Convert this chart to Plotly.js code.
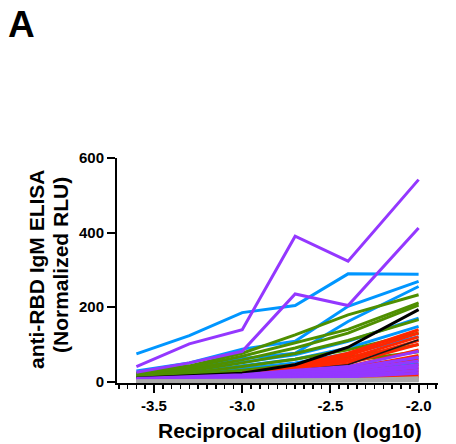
<!DOCTYPE html>
<html>
<head>
<meta charset="utf-8">
<script src="https://cdn.plot.ly/plotly-3.0.1.min.js"></script>
<style>html,body{margin:0;padding:0;background:#fff;}#chart{width:456px;height:444px;}</style>
</head>
<body>
<div id="chart"></div>
<script>
// log10 reciprocal dilution
const dilution = [-3.6, -3.3, -3.0, -2.7, -2.4, -2.0];

const blueSeries = [
  [74, 123, 185, 204, 289, 288],
  [28, 50, 87, 108, 202, 269],
  [22, 40, 62, 76, 161, 255],
  [18, 32, 52, 72, 108, 170],
  [15, 25, 42, 60, 90, 148],
  [12, 20, 35, 50, 75, 120],
  [10, 15, 22, 30, 40, 63],
  [8, 12, 18, 24, 32, 50]
];
const greenSeries = [
  [22, 42, 76, 125, 179, 233],
  [20, 38, 68, 105, 140, 211],
  [18, 33, 58, 90, 130, 205],
  [15, 28, 50, 75, 110, 166],
  [12, 22, 40, 60, 85, 130],
  [10, 18, 30, 45, 65, 99],
  [8, 15, 25, 38, 55, 80]
];
const redSeries = [
  [6, 10, 22, 45, 76, 139],
  [5, 9, 20, 40, 70, 130],
  [5, 8, 18, 36, 62, 120],
  [4, 7, 16, 32, 55, 110],
  [4, 6, 14, 28, 48, 100],
  [3, 6, 12, 24, 40, 85],
  [3, 5, 10, 20, 34, 70],
  [3, 5, 9, 17, 28, 58],
  [2, 4, 8, 14, 22, 45],
  [2, 4, 7, 12, 18, 36],
  [2, 3, 6, 10, 14, 28],
  [2, 3, 5, 8, 11, 20],
  [1, 2, 4, 6, 8, 14],
  [1, 2, 3, 5, 6, 10]
];
const blackSeries = [
  [9, 15, 22, 45, 92, 193]
];
const blackThinSeries = [
  [5, 8, 15, 30, 45, 112]
];
const purpleSeries = [
  [40, 101, 139, 390, 323, 542],
  [25, 50, 81, 235, 204, 412],
  [8, 12, 18, 30, 40, 81],
  [6, 10, 15, 25, 35, 65],
  [5, 8, 12, 22, 30, 55],
  [4, 7, 10, 18, 25, 45],
  [3, 5, 8, 14, 20, 38],
  [2, 4, 6, 10, 15, 30],
  [2, 3, 5, 8, 12, 22]
];
const graySeries = [
  [2, 2, 3, 4, 5, 10],
  [1, 2, 2, 3, 4, 7],
  [1, 1, 2, 2, 3, 5],
  [0, 1, 1, 2, 2, 3],
  [0, 0, 1, 1, 1, 2]
];

const xTickVals = [-3.5, -3.0, -2.5, -2.0];
const xTickText = ["-3.5", "-3.0", "-2.5", "-2.0"];
const yTickVals = [0, 200, 400, 600];
const yTickText = ["0", "200", "400", "600"];

const panelLabel = 'A';
const xTitle = 'Reciprocal dilution (log10)';
const yTitleLines = ['anti-RBD IgM ELISA', '(Normalized RLU)'];

const groups = [
  {data: blueSeries, color: '#0096FF', width: 3},
  {data: greenSeries, color: '#4F8F00', width: 3},
  {data: redSeries, color: '#FF2600', width: 3},
  {data: blackSeries, color: '#000000', width: 3},
  {data: blackThinSeries, color: '#1a1a1a', width: 1.5},
  {data: purpleSeries, color: '#9437FF', width: 3},
  {data: graySeries, color: '#A9A9A9', width: 3}
];

const traces = [];
groups.forEach(g => {
  g.data.forEach(ys => {
    traces.push({
      x: dilution, y: ys, type: 'scatter', mode: 'lines',
      line: {color: g.color, width: g.width},
      hoverinfo: 'skip', showlegend: false
    });
  });
});

const fontFam = 'Liberation Sans, Arial, Helvetica, sans-serif';
const M = {l: 117, r: 18, t: 158, b: 61};
const PW = 456 - M.l - M.r, PH = 444 - M.t - M.b;
const px2x = px => (px - M.l) / PW;
const py2y = py => (444 - M.b - py) / PH;

const layout = {
  width: 456, height: 444,
  margin: M,
  paper_bgcolor: '#ffffff', plot_bgcolor: '#ffffff',
  showlegend: false,
  font: {family: fontFam, color: '#000', size: 15},
  xaxis: {
    range: [-3.71, -1.89],
    showgrid: false, zeroline: false,
    showline: true, linecolor: '#000', linewidth: 2,
    layer: 'below traces',
    tickmode: 'array', tickvals: xTickVals, ticktext: xTickText,
    ticks: 'outside', ticklen: 8, tickwidth: 2, tickcolor: '#000',
    minor: {dtick: 0.05, tick0: 0, ticks: 'outside', ticklen: 4, tickwidth: 1.5, tickcolor: '#000', showgrid: false},
    tickfont: {family: fontFam, size: 15, color: '#000', weight: 'bold'}
  },
  yaxis: {
    range: [-4, 600],
    showgrid: false, zeroline: false,
    showline: true, linecolor: '#000', linewidth: 2,
    layer: 'below traces',
    tickmode: 'array', tickvals: yTickVals, ticktext: yTickText,
    ticks: 'outside', ticklen: 8, tickwidth: 2, tickcolor: '#000',
    tickfont: {family: fontFam, size: 15, color: '#000', weight: 'bold'}
  },
  annotations: [
    {
      text: '<b>' + panelLabel + '</b>', xref: 'paper', yref: 'paper',
      x: px2x(6), y: py2y(2), xanchor: 'left', yanchor: 'top',
      showarrow: false, font: {family: fontFam, size: 37, color: '#000'}
    },
    {
      text: '<b>' + xTitle + '</b>', xref: 'paper', yref: 'paper',
      x: px2x(290), y: py2y(430), xanchor: 'center', yanchor: 'middle',
      showarrow: false, font: {family: fontFam, size: 21, color: '#000'}
    },
    {
      text: '<b>' + yTitleLines[0] + '</b>', xref: 'paper', yref: 'paper',
      x: px2x(36), y: py2y(269), xanchor: 'center', yanchor: 'middle', textangle: -90,
      showarrow: false, font: {family: fontFam, size: 21, color: '#000'}
    },
    {
      text: '<b>' + yTitleLines[1] + '</b>', xref: 'paper', yref: 'paper',
      x: px2x(60), y: py2y(265), xanchor: 'center', yanchor: 'middle', textangle: -90,
      showarrow: false, font: {family: fontFam, size: 21, color: '#000'}
    }
  ]
};

Plotly.newPlot('chart', traces, layout, {displayModeBar: false, staticPlot: true});
</script>
</body>
</html>
